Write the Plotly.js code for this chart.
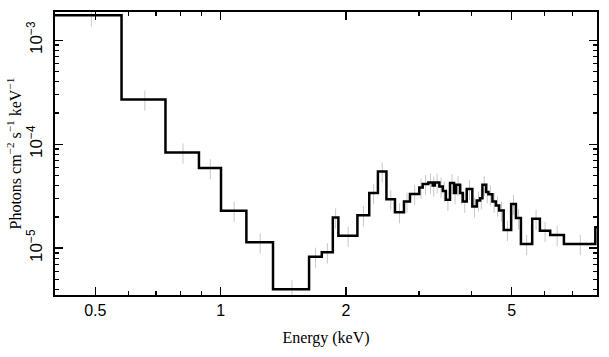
<!DOCTYPE html>
<html>
<head>
<meta charset="utf-8">
<script src="https://cdn.plot.ly/plotly-3.0.1.min.js"></script>
<style>html,body{margin:0;padding:0;background:#fff;}#chart{width:609px;height:357px;}</style>
</head>
<body>
<div id="chart"></div>
<script>
// Bin edges (keV) of the folded spectrum
const binEdges = [0.4, 0.578, 0.737, 0.887, 1.002, 1.153, 1.336, 1.631, 1.750, 1.860, 1.918, 2.131, 2.275, 2.387, 2.502, 2.623, 2.757, 2.850, 3.001, 3.058, 3.155, 3.232, 3.27, 3.353, 3.417, 3.474, 3.557, 3.637, 3.678, 3.760, 3.816, 3.901, 4.024, 4.124, 4.201, 4.255, 4.343, 4.399, 4.497, 4.583, 4.668, 4.786, 4.988, 5.121, 5.265, 5.604, 5.848, 6.191, 6.679, 7.946, 8.2];
// Photons cm^-2 s^-1 keV^-1 per bin
const fluxValues = [1.74e-3, 2.70e-4, 8.34e-5, 5.90e-5, 2.29e-5, 1.14e-5, 4.03e-6, 8.30e-6, 9.15e-6, 1.98e-5, 1.32e-5, 2.08e-5, 3.39e-5, 5.47e-5, 2.96e-5, 2.22e-5, 2.81e-5, 3.33e-5, 3.84e-5, 4.14e-5, 4.29e-5, 4.01e-5, 4.29e-5, 3.92e-5, 3.56e-5, 2.92e-5, 4.23e-5, 3.39e-5, 4.07e-5, 3.39e-5, 2.81e-5, 3.72e-5, 2.52e-5, 2.88e-5, 3.03e-5, 4.07e-5, 3.47e-5, 3.31e-5, 2.81e-5, 2.58e-5, 2.30e-5, 1.50e-5, 2.67e-5, 1.95e-5, 1.10e-5, 1.92e-5, 1.47e-5, 1.34e-5, 1.10e-5, 1.59e-5];
// relative error (%) of each data point
const relErrPct = 22;
const xTickVals = [0.5, 1, 2, 5];
const xTickText = ['0.5', '1', '2', '5'];
const xMinorVals = [0.6, 0.7, 0.8, 0.9, 3, 4, 6, 7, 8];
const yTickVals = [1e-5, 1e-4, 1e-3];
const yTickText = ['10<sup>−5</sup>', '10<sup>−4</sup>', '10<sup>−3</sup>'];
const yMinorVals = [4e-6,5e-6,6e-6,7e-6,8e-6,9e-6,2e-5,3e-5,4e-5,5e-5,6e-5,7e-5,8e-5,9e-5,2e-4,3e-4,4e-4,5e-4,6e-4,7e-4,8e-4,9e-4];
const xTitle = 'Energy (keV)';
const yTitle = 'Photons cm<sup>−2</sup> s<sup>−1</sup> keV<sup>−1</sup>';

const stepX = binEdges.slice();
const stepY = fluxValues.concat([fluxValues[fluxValues.length-1]]);
const centers = fluxValues.map((v,i)=> (binEdges[i]+binEdges[i+1])/2);

const dataTrace = {
  x: centers, y: fluxValues, type: 'scatter', mode: 'markers',
  marker: {size: 1, color: 'rgba(0,0,0,0)'},
  error_y: {type: 'percent', value: relErrPct, color: '#c8c8c8', thickness: 1, width: 0},
  hoverinfo: 'skip', showlegend: false
};
const stepTrace = {
  x: stepX, y: stepY, type: 'scatter', mode: 'lines',
  line: {shape: 'hv', color: '#000', width: 2.5},
  showlegend: false
};

const axisCommon = {
  showline: true, linecolor: '#000', linewidth: 2, mirror: 'ticks',
  ticks: 'inside', ticklen: 8, tickwidth: 1.5, tickcolor: '#000',
  showgrid: false, zeroline: false
};
const serif = 'Liberation Serif, Times New Roman, serif';

const layout = {
  width: 609, height: 357,
  margin: {l: 55, r: 12, t: 12, b: 62},
  paper_bgcolor: '#fff', plot_bgcolor: '#fff',
  xaxis: Object.assign({}, axisCommon, {
    type: 'log', range: [Math.log10(0.4), Math.log10(8.02)],
    tickmode: 'array', tickvals: xTickVals, ticktext: xTickText,
    tickfont: {family: 'Liberation Sans, Arial, sans-serif', size: 16, color: '#000'},
    minor: {tickmode: 'array', tickvals: xMinorVals, ticks: 'inside', ticklen: 4, tickwidth: 1.5, tickcolor: '#000', showgrid: false},
    title: {text: xTitle, font: {family: serif, size: 16, color: '#000'}, standoff: 14}
  }),
  yaxis: Object.assign({}, axisCommon, {
    type: 'log', range: [Math.log10(3.55e-6), Math.log10(1.87e-3)],
    tickmode: 'array', tickvals: yTickVals, ticktext: yTickText, tickangle: -90,
    tickfont: {family: 'Liberation Sans, Arial, sans-serif', size: 17, color: '#000'},
    ticklabelstandoff: 4,
    minor: {tickmode: 'array', tickvals: yMinorVals, ticks: 'inside', ticklen: 4, tickwidth: 1.5, tickcolor: '#000', showgrid: false}
  }),
  annotations: [{
    text: yTitle, xref: 'paper', yref: 'paper', x: 0, y: 0.5,
    xanchor: 'center', yanchor: 'middle', xshift: -41, textangle: -90,
    showarrow: false, font: {family: serif, size: 16, color: '#000'}
  }]
};

Plotly.newPlot('chart', [dataTrace, stepTrace], layout, {displayModeBar: false, staticPlot: true});
</script>
</body>
</html>
